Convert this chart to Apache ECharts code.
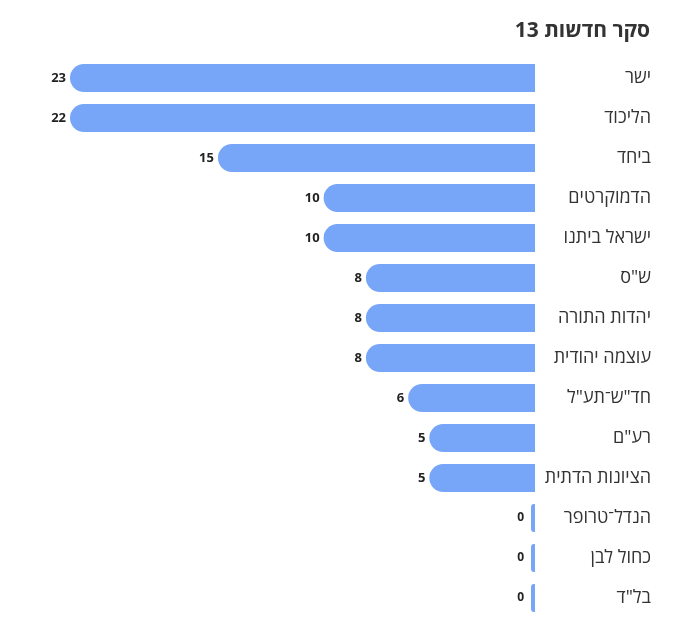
<!DOCTYPE html>
<html>
<head>
<meta charset="utf-8">
<script src="https://cdn.jsdelivr.net/npm/echarts@6/dist/echarts.min.js"></script>
<style>
  html, body { margin: 0; padding: 0; background: #fff; }
  #chart { width: 674px; height: 618px; }
</style>
</head>
<body>
<div id="chart"></div>
<script>
var titleText = 'סקר חדשות 13';
var parties = ['ישר', 'הליכוד', 'ביחד', 'הדמוקרטים', 'ישראל ביתנו', 'ש"ס', 'יהדות התורה',
    'עוצמה יהודית', 'חד"ש־תע"ל', 'רע"ם', 'הציונות הדתית', 'הנדל־טרופר', 'כחול לבן', 'בל"ד'];
var seats = [23, 22, 15, 10, 10, 8, 8, 8, 6, 5, 5, 0, 0, 0];

var barColor = '#77a5f7';

// zero rows get a thin stub, drawn on a second axis whose 0 sits 4px left of the bar base
var zeroSeats = seats.map(function (v) { return v === 0 ? v : '-'; });

var chart = echarts.init(document.getElementById('chart'));

chart.setOption({
    animation: false,
    textStyle: { fontFamily: 'Open Sans' },
    title: {
        text: titleText,
        right: 19,
        top: 16,
        textStyle: { fontSize: 21, fontWeight: 'bold', color: '#333', fontFamily: 'Open Sans' }
    },
    grid: { left: 70, right: 139, top: 58, bottom: 0 },
    xAxis: [
        { type: 'value', inverse: true, min: 0, max: 22, show: false },
        { type: 'value', inverse: true, min: -0.19, max: 22, show: false }
    ],
    yAxis: {
        type: 'category',
        data: parties,
        inverse: true,
        position: 'right',
        axisLine: { show: false },
        axisTick: { show: false },
        splitLine: { show: false },
        axisLabel: {
            align: 'right',
            margin: 116,
            fontSize: 18,
            color: '#333'
        }
    },
    series: [
        {
            type: 'bar',
            data: seats,
            barWidth: 28,
            barGap: '-100%',
            itemStyle: {
                color: barColor,
                borderRadius: [14, 0, 0, 14]
            },
            label: {
                show: true,
                position: 'left',
                distance: 4,
                fontSize: 13,
                fontWeight: 'bold',
                color: '#222',
                formatter: function (p) { return p.value > 0 ? p.value : ''; }
            }
        },
        {
            type: 'bar',
            xAxisIndex: 1,
            data: zeroSeats,
            barWidth: 28,
            barGap: '-100%',
            barMinHeight: 4,
            itemStyle: {
                color: barColor,
                borderRadius: [3, 0, 0, 3]
            },
            label: {
                show: true,
                position: 'left',
                distance: 7,
                fontSize: 12,
                fontWeight: 'bold',
                color: '#222'
            }
        }
    ]
});
</script>
</body>
</html>
